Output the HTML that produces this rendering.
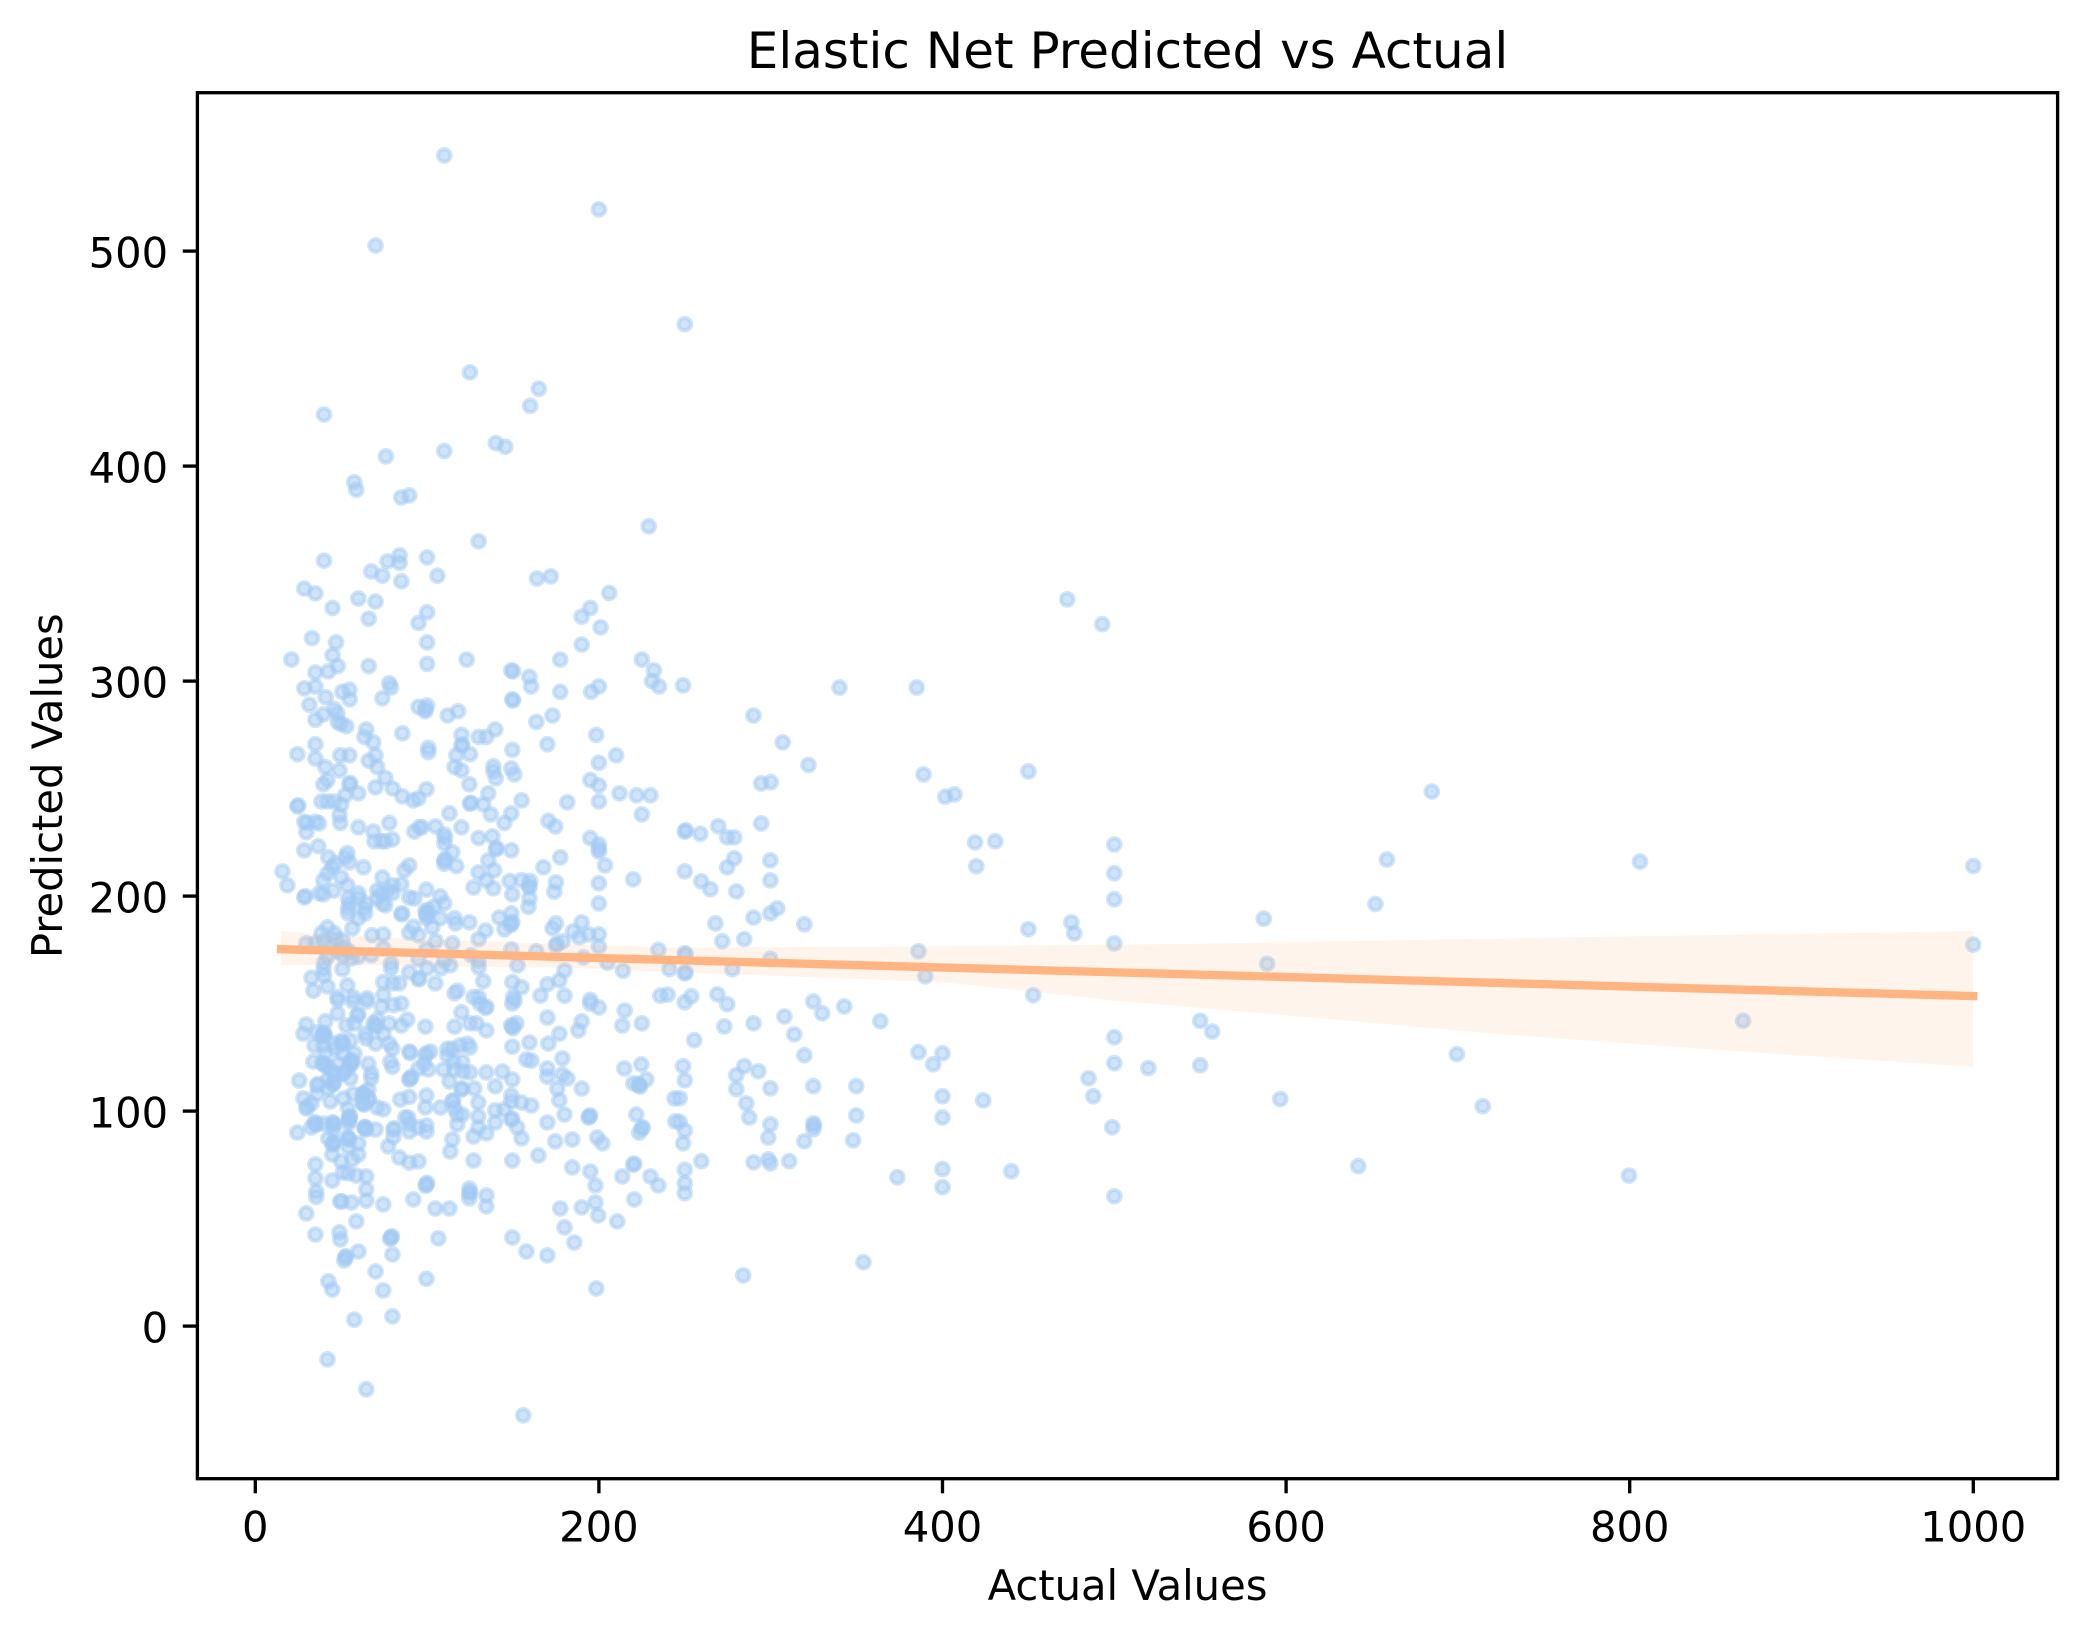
<!DOCTYPE html>
<html lang="en">
<head>
<meta charset="utf-8">
<title>Elastic Net Predicted vs Actual</title>
<style>
html,body{margin:0;padding:0;background:#fff;}
svg{display:block;}
text{font-family:"DejaVu Sans","Liberation Sans",sans-serif;fill:#000;}
</style>
</head>
<body>
<svg id="chart" xmlns="http://www.w3.org/2000/svg" width="2087" height="1638" viewBox="0 0 2087 1638">
  <rect x="0" y="0" width="2087" height="1638" fill="#ffffff"/>
  <g id="points"></g>
  <g id="fit"></g>
  <g id="ticks"></g>
  <rect x="197.4" y="92.7" width="1860.2" height="1386" fill="none" stroke="#000" stroke-width="3.33"/>
  <text x="1127.5" y="68" text-anchor="middle" font-size="50">Elastic Net Predicted vs Actual</text>
  <text x="1127.5" y="1600" text-anchor="middle" font-size="41.67">Actual Values</text>
  <text transform="translate(62 785.7) rotate(-90)" text-anchor="middle" font-size="41.67">Predicted Values</text>
</svg>
<script>
const xTickLabels = [0, 200, 400, 600, 800, 1000];
const yTickLabels = [0, 100, 200, 300, 400, 500];

const fitActual = [15, 1000];
const fitPredicted = [175.3, 153.5];

const ciActual = [15, 50, 100, 183, 247, 400, 500, 538, 725, 859, 1000];
const ciUpper = [183.7, 181.5, 179.9, 177.5, 176, 176.7, 177.4, 177.7, 180.3, 182, 183.7];
const ciLower = [167.9, 168, 167.5, 166.6, 164.5, 160, 151.4, 148.8, 135.8, 128, 120.6];

const actualA = [
110,200,70,250,125,165,160,40,76,110,
140,145.5,57.6,58.8,85,89.6,130,229,40,77,
84,84,100,67.5,74,85,106,164,172,206,
28.5,35,60,70,45,195];
const predictedA = [
544.5,519.4,502.6,466,443.6,436,428,424,404.5,407,
410.7,409,392.5,389,385.4,386.4,365,372,356,355.7,
358.5,355,357.5,351,349,346.4,349,347.7,348.7,341,
343,340.8,338.4,337,334,334];

const actualB = [
190,201,66,100,95,100,100,190,33,47,
45,21,48,42.5,35,66,123,149,150,159.5,
160.5,177.5,177.5,225,232,231,235,200,195.5,28.5,
35,41,50.7,54.8,55,78,79,74,149.6,150,
31.5,95,100,99,99,112,118,163.6,173,39.6,
35,46,47.8,48,50];
const predictedB = [
330,325,329,332,327,318,308,317,320,318,
312,310,307,304.5,304,307,310,305,304.5,302,
297.5,310,295,310,305,300,297.5,297.5,295,296.6,
297.5,292.5,295,296,291.5,299,297,292,291.5,291,
289,288,288.7,287,286,284,286,281,284,284.5,
282,287,285,281,280];

const actualC = [
53,64.6,63.5,68.7,85.6,120,130,134.5,139.7,120,
120.5,117,125,100.7,100.7,149.6,170,198.5,200,210,
35,24.5,35,49.5,54.8,70,66,40.8,71,49,
116,120,138.6,138.6,140,149,150.8,75.7,42,39.6,
54.8,55.2,70,80,99.6,124.6,60,52.4,85.6,92,
95,135.6,155,181.6,195,200,200,212,222,230,
225,38.5,42,46,24.5,25,50,49,49.5,125,
125.5,132.7,137,113,149,145,78,60,68.7,28.5,
35,30,37,29.7,95.5,92.6,97,105,120,170.6,
174.6];
const predictedC = [
279,277.5,274,271.5,275.7,275,274,274,277.5,270,
270.5,265.5,266,269,267,268,270.6,275,262,265.5,
270.6,266,264,265.5,265.5,265.5,263,260,260,258.5,
260,258.5,260.4,258,254.8,259.4,256.6,255,254,252,
252,252.6,250.6,250,249.7,252,247.8,247,246.4,244.5,
245.5,247.8,244.5,243.6,254,251.5,244,247.8,246.9,246.9,
238,244,244,244,241.7,242.2,242.5,237.6,234,243,
243.4,242.7,238,238.5,238.5,234,234,232,230,234.6,
234.6,234,233.8,229.7,232,230,232,232.4,232,235,
232.4];

const actualD = [
110,110.4,110,130,138,69.3,73.4,75.7,79.8,195,
200,200,200,28.5,36.7,114.7,140,140.5,149,135.6,
177.5,42.5,53.6,52.4,54.8,46.6,110,110.5,110,117,
63,89.6,203.6,167.7,15.8,18.7,44.8,42,39.6,50,
86.8,130,139,74,134.5,127,138.6,148,155,160,
159.5,159.5,175,174,200,220,149.6,159.6,159,200,
53.6,60,80,85,71,73.4,77.4,79.8,99.6,107.7,
110,89.6,92.6,28.5,29,39.6,37.3,45.4,54,54.8,
54,60,64.6,63.5,64,60,54,71,74,75.7];
const predictedD = [
228.7,227,224.5,227,227.8,225.5,225.5,225.5,226.4,227,
224,222,220.7,221.3,223.2,220.4,221.8,222.4,221.3,216.6,
218,218,220,218,215.7,215.2,216.6,217.2,215,214,
213.4,214.3,214.3,213.4,211.5,205,213.4,210.6,207.3,208.7,
212,211,212,208.7,207.3,204,203.6,207,207.4,207,
204,205,206.4,202,206,207.8,200.8,199,195,196.6,
205,201.3,205,205.5,202.7,201.3,202.7,201.3,203,199.9,
196.6,199.4,198.9,199.4,200,200.8,201.3,202.5,199,196.6,
194.3,199,196.6,194.3,192,189.7,192,199,196.6,195.7];

const actualE = [
85,85.5,99.6,100,99,99.6,100.7,104,103,107.7,
116,116.5,124.6,142,149,149,149.5,148.6,145,134,
130,175,173,190,185,188.6,194,200,200,179,
175,175.6,234.6,191,214,205,241,149,163.6,152.6,
125.6,130,130,114.7,105,99.6,95,100,108,113.5,
110,89.6,92,95,68,74.5,74.5,67.5,29.7,35,
38.5,42,46,50.7,56.5,39.6,47.8,51,56,60,
40,39.6,50.7,79,79,44,47,52,55,42];
const predictedE = [
191.5,192,192,191,193,189.7,193.5,195,185.5,189.7,
189.7,187.3,187.8,190,192,187.3,188,186.6,184.5,184,
180,187.3,185,187.8,183.6,180.8,182.2,182.2,176.5,179,
177.1,177.8,175,171.5,165.3,169,166,175.2,174.3,167.8,
172.5,170,166.9,178,179,175.2,170.6,166.4,166.4,167.8,
170,183,185.8,181.8,181.8,182.2,175.7,172.5,178,178,
182.7,185.5,182.7,179.6,185,179,174.3,172.5,171,171.8,
169,166,166,168.7,166.4,177,180,176,174,172];

const actualF = [
32.7,40,42,33.8,53.6,89.6,95,95.5,104.8,74.5,
80,83.8,117.6,132.7,149.6,155,170,177,180,235.8,
240,180,195,166,127,130,116,74.5,57,47.8,
65,150,151,48,57,65,73.5,80.4,85,130.8,
195,120,134,134.5,149.6,215,200,47.8,59.4,60];
const predictedF = [
162,163,158,156,158.5,164.6,161.3,161.8,159.4,160,
159.4,159.4,156,160.4,160,157.6,159,160.8,165.4,153.7,
154.2,153.7,151.7,153.7,153,153,154.8,154,153,153,
152.5,153,151.6,151.6,151,151,148.5,149.3,150,150,
150,145.9,148,148.6,150,146.8,148.2,145.4,144.5,145];

const actualG = [
29.7,28,40.8,57.7,53,68.7,71,78,85,88.5,
99,116,125,128.7,134.5,152,149.6,150,149,170,
190,188,177,159.6,170.6,149.6,213.6,225,39.6,40,
39,40.6,36,34.4,39.6,45.4,50.7,51.2,50,55.3,
57.7,46.6,64.6,70,74.5,78,79.8,89.7,90.2,99,
99.6,101.9,111.8,114.7,119,123.4,125,111.8,64,70,
70.6,40.8,51,178.7,160.7];
const predictedG = [
140.3,136,141.7,140.8,139.8,140.8,142.6,140.8,139.8,142.6,
139.3,139.3,140.8,140.8,137.5,140.8,139.3,138.5,140,143.5,
141.7,137.5,136,131.9,131.4,130,139.8,140.8,135.6,136.4,
134.8,135,136.6,130.5,130.5,131.4,131.9,131,132.6,132.8,
126.8,129.1,133.8,131.4,136,131.4,129,127.7,127,125.9,
126.8,127.7,129,129,130.5,131.4,129.6,125.9,136,140,
139.3,126.8,126.8,124.5,123.5];

const actualH = [
33.8,78.6,79.8,98.4,100.7,95,115.3,120.5,109.5,115.9,
121,125,134.5,143.8,149.6,139.7,113,120,120.5,127.5,
129.8,114.7,115.2,115.9,139.7,145,149,149,154.9,160.7,
157.8,170,170,178.7,181.6,175.8,177,190,214.8,224.7,
227.6,220,223.5,224,223,244,107.7,99,99.6,89.6,
84.4,89.6,90.2,90.8,25.6,28,29.7,30.2,32.6,36,
36.6,36,42.5,45.4,45.8,45,42.5,46.6,39.6,40.2,
39,42.5,48,55.8,56.3,55.2,54,51,51.6,55.3,
43.7,51.3,57,62.9,63.4,62.4,65.8,65.8,66.2,62.9,
63.4,62.4,54,71,74.5,65.8,67.5,67.5,56.5,45];
const predictedH = [
123,123,120.6,122,119.3,119.8,123,123,119.3,119.3,
118.4,118,118,118.4,114.7,111.5,113.8,110,110.6,110.5,
104,104.5,105,101.2,100.3,100.8,107.3,104.5,104,102.6,
124,119.8,116,117,115.2,110.5,105,110.5,119.8,121.7,
114.7,112.9,112,111.4,112.6,105.9,101.7,101.7,107.3,106.6,
105.4,114.7,115,116,114.2,105.9,101.2,102,103.5,112,
112.6,108,115,112.9,113.5,112.3,110.5,117.5,122,121.4,
122.6,120.6,122,122.6,122,123.2,119.8,117.5,118,115.2,
104.5,105.9,108,108,108.6,107.4,110,105.9,105.3,103.5,
103,104,101.2,101.7,100.8,122,117.5,115.2,123.7,118];

const actualI = [
24.5,32.6,35,35.5,34.5,45.4,45.8,45,39.6,45.4,
42.5,45.4,45.9,44.9,54.2,54.7,53.7,54,54.8,55.2,
54.3,54.8,54.2,64,64.5,63.5,64,70,60,117.6,
120.5,117.6,129.8,129.8,127,134.5,139.7,149,149.5,152.5,
155,149.6,164.8,114.7,113.5,127,180,170,174.6,184.5,
194.4,194.9,194,199,202,221.8,225,225.5,223.5,244.5,
44.8,50,60,56.5,77.4,83.8,89.6,95,80.4,80.4,
80.8,89.6,89.6,89,99.6,99.6,95,87.3,220,220.5];
const predictedI = [
90,92.4,94.2,93.6,94.8,94.2,93.6,94.8,94.2,91.2,
87.3,85,85.6,84.4,87.3,86.7,87.9,83.4,97,97.6,
96.4,95.6,94.2,91.9,91.4,92.4,92.6,91.4,85,98.4,
98.4,93.8,97.5,92.4,88.2,89.6,94.7,96,96.6,92.4,
87.3,77,79.4,86.8,81.2,77,98.4,94.7,85.9,86.8,
97.5,98,97,87.7,85,98.4,91.9,92.4,90,95.2,
79.8,76.6,79.8,77.5,83.6,78.4,76,76.6,88,91.4,
92,90.5,94.2,97,90.5,93.3,92.4,97,75,75.6];

const actualJ = [
184.5,195,198,198,190,177.5,199.6,180,185.7,198.5,
156,149.6,157.8,170,213.6,230,234.6,220.6,210.7,70,
74.5,57.6,79.8,99.6,42.5,44.8,42,64.6,29.7,35,
49,49.5,60,52.4,52.8,51.8,58.8,79,79.5,78.5,
79.8,106.5,35,35,35.5,35.5,44.8,49.5,50.2,56,
64.6,64.6,64.6,74.5,92,99.6,100,99.2,104.8,113,
124.6,124.6,125,124.6,134.5,134.5,51,54,58.8];
const predictedJ = [
73.8,71.9,65.4,57.5,55.2,54.7,51.5,45.9,38.9,17.5,
-41.5,41.2,34.7,32.9,69.6,69.6,65.4,58.9,48.7,25.4,
16.6,3,4.5,22,20.8,17,-15.5,-29.4,52.4,42.6,
43.6,40.3,34.7,31.9,32.5,30.5,48.7,41.2,41.8,40.6,
33.3,40.8,75.2,68.7,62.6,60.1,67.7,58,58,57.5,
58.4,63.6,69.6,56.6,58.9,65.9,66.6,65.2,54.7,54.7,
64,61.7,62.3,59.4,60.8,55.7,71.5,71,70];

const actualK = [
250,250.6,259,269.5,274.7,278.8,294.5,278.8,274.7,299.8,
299.8,250,259.6,264.9,280,419,430.7,419.7,500,500,
500,303.8,299.8,290,267.8,319.6,450,475,476.7,500,
271.8,284.6,250,250.4,299.8,277.7,250,250.4,386,390,
452.8,253.8,250,269,274.7,324.8,330,342.8,363.8,308,
290,273,313.7,255.5,319.6,386,400,394.6,500,500,
519.8,485,487.8,498.8,249,250,284.6,292.8,280,280,
299.8,324.8,349.8,400,423.7,285.8,287.5,247,247,250,
249,299.8,298.6,324.8,325.2,324.8,319.6,349.8,348,400,
290,298.6,299.8,310.8,259.6,250,250,250,373.7,400,
400,440,500,354,284,340,385,249,290,307,
322,294.5,300,389,450,401.6,407,472.6,493,684.8,
658.7,806,1000,652,587,1000,589,550,557,866,
550,699.4,596.6,714.5,642,799.6];
const predictedK = [
230,230.6,229,232.5,227.3,227.3,233.8,217.6,213.4,216.6,
207.3,211.5,206.9,203.2,202.2,225,225.5,213.9,224,210.6,
198.5,194.3,192,190,187.3,186.9,184.6,187.8,182.7,178,
179,180,173.4,172.8,170.8,166,164,164.6,174.3,162.7,
153.9,153.4,150.6,154.3,149.7,151,145.5,148.7,141.8,144,
140.8,139.4,135.7,133,126,127.4,126.9,121.8,134.3,122.3,
120,115.3,106.9,92.5,120.9,114.3,120.9,118.5,116.7,110.2,
110.6,111.6,111.6,106.9,105,103.6,97,106,95,91,
85,93.9,87.7,94.3,93.4,91.6,86,98,86.4,97,
76.2,77.6,75.7,76.7,76.7,72.7,66.4,61.8,69.2,73,
64.6,72,60.4,29.7,23.6,297,297,298,284,271.5,
261,252.4,253,256.6,258,246.2,247.3,338,326.5,248.6,
217,216,214,196.3,189.5,177.4,168.5,142,137,142,
121.3,126.5,105.6,102.3,74.4,70];

const actualValues = [].concat(actualA, actualB, actualC, actualD, actualE, actualF, actualG, actualH, actualI, actualJ, actualK);
const predictedValues = [].concat(predictedA, predictedB, predictedC, predictedD, predictedE, predictedF, predictedG, predictedH, predictedI, predictedJ, predictedK);

const NS = 'http://www.w3.org/2000/svg';
function xScale(v) { return 255.3 + 1.718 * v; }
function yScale(v) { return 1326.1 - 2.15 * v; }

const pointsGroup = document.getElementById('points');
const pointCount = Math.min(actualValues.length, predictedValues.length);
for (let i = 0; i < pointCount; i++) {
  const c = document.createElementNS(NS, 'circle');
  
  
  c.setAttribute('cx', xScale(actualValues[i]).toFixed(2));
  c.setAttribute('cy', yScale(predictedValues[i]).toFixed(2));
  c.setAttribute('r', '6.3');
  c.setAttribute('fill', '#a1c9f4');
  c.setAttribute('fill-opacity', '0.5');
  c.setAttribute('stroke', '#a1c9f4');
  c.setAttribute('stroke-opacity', '0.5');
  c.setAttribute('stroke-width', '4.17');
  pointsGroup.appendChild(c);
}

const fitGroup = document.getElementById('fit');
const fitLine = document.createElementNS(NS, 'line');


fitLine.setAttribute('x1', xScale(fitActual[0]));
fitLine.setAttribute('y1', yScale(fitPredicted[0]));
fitLine.setAttribute('x2', xScale(fitActual[1]));
fitLine.setAttribute('y2', yScale(fitPredicted[1]));
fitLine.setAttribute('stroke', '#ffb482');
fitLine.setAttribute('stroke-width', '8.33');
fitLine.setAttribute('stroke-linecap', 'square');
fitGroup.appendChild(fitLine);

const upperPts = ciActual.map((v, i) => xScale(v).toFixed(2) + ',' + yScale(ciUpper[i]).toFixed(2));
const lowerPts = ciActual.map((v, i) => xScale(v).toFixed(2) + ',' + yScale(ciLower[i]).toFixed(2)).reverse();
const band = document.createElementNS(NS, 'polygon');


band.setAttribute('points', upperPts.concat(lowerPts).join(' '));
band.setAttribute('fill', '#ffb482');
band.setAttribute('fill-opacity', '0.15');
fitGroup.appendChild(band);

const ticksGroup = document.getElementById('ticks');
xTickLabels.forEach(function (v) {
  const tick = document.createElementNS(NS, 'line');
  
  
  tick.setAttribute('x1', xScale(v));
  tick.setAttribute('x2', xScale(v));
  tick.setAttribute('y1', '1478.7');
  tick.setAttribute('y2', '1493.3');
  tick.setAttribute('stroke', '#000');
  tick.setAttribute('stroke-width', '3.33');
  ticksGroup.appendChild(tick);
  const label = document.createElementNS(NS, 'text');
  
  
  label.setAttribute('x', xScale(v));
  label.setAttribute('y', '1541.5');
  label.setAttribute('text-anchor', 'middle');
  label.setAttribute('font-size', '41.67');
  label.textContent = String(v);
  ticksGroup.appendChild(label);
});
yTickLabels.forEach(function (v) {
  const tick = document.createElementNS(NS, 'line');
  
  
  tick.setAttribute('x1', '182.8');
  tick.setAttribute('x2', '197.4');
  tick.setAttribute('y1', yScale(v));
  tick.setAttribute('y2', yScale(v));
  tick.setAttribute('stroke', '#000');
  tick.setAttribute('stroke-width', '3.33');
  ticksGroup.appendChild(tick);
  const label = document.createElementNS(NS, 'text');
  
  
  label.setAttribute('x', '168.2');
  label.setAttribute('y', yScale(v) + 16.6);
  label.setAttribute('text-anchor', 'end');
  label.setAttribute('font-size', '41.67');
  label.textContent = String(v);
  ticksGroup.appendChild(label);
});
</script>
</body>
</html>
